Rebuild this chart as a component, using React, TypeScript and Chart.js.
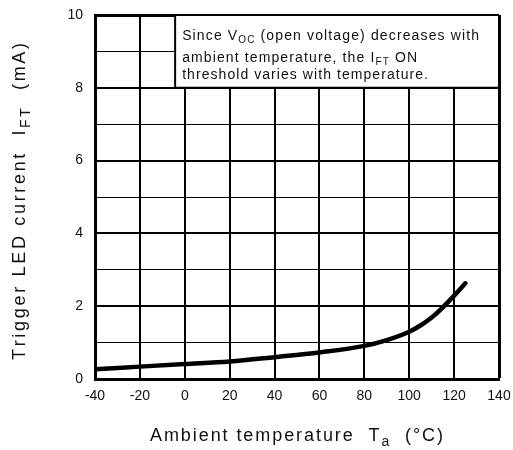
import React, { useEffect, useRef } from "react";
import { Chart, registerables } from "chart.js";

Chart.register(...registerables);

const temperatures = [-40, -20, 0, 20, 40, 60, 80, 90, 100, 105, 110, 115, 120, 125];
const currentIFT = [0.27, 0.34, 0.41, 0.48, 0.6, 0.73, 0.91, 1.07, 1.3, 1.47, 1.69, 1.97, 2.29, 2.63];
const xTitleParts = [
  { text: "Ambient temperature  T", sub: false },
  { text: "a", sub: true },
  { text: "  (°C)", sub: false },
];
const yTitleParts = [
  { text: "Trigger LED current  I", sub: false },
  { text: "FT", sub: true },
  { text: "  (mA)", sub: false },
];
const noteLines = [
  [
    { text: "Since V", sub: false },
    { text: "OC", sub: true },
    { text: " (open voltage) decreases with", sub: false },
  ],
  [
    { text: "ambient temperature, the I", sub: false },
    { text: "FT", sub: true },
    { text: " ON", sub: false },
  ],
  [{ text: "threshold varies with temperature.", sub: false }],
];

type Part = { text: string; sub: boolean };
const FONT = "Arial, 'Liberation Sans', sans-serif";

function rawWidth(ctx: CanvasRenderingContext2D, parts: Part[], size: number, subSize: number) {
  let w = 0;
  let n = 0;
  for (const p of parts) {
    ctx.font = `${p.sub ? subSize : size}px ${FONT}`;
    for (const ch of p.text) {
      w += ctx.measureText(ch).width;
      n++;
    }
  }
  return { w, n };
}

function drawRichFit(
  ctx: CanvasRenderingContext2D,
  parts: Part[],
  x: number,
  y: number,
  size: number,
  subSize: number,
  subOffset: number,
  target: number
) {
  const { w, n } = rawWidth(ctx, parts, size, subSize);
  const sp = n > 1 ? (target - w) / (n - 1) : 0;
  let cx = x;
  ctx.textAlign = "left";
  ctx.textBaseline = "alphabetic";
  for (const p of parts) {
    ctx.font = `${p.sub ? subSize : size}px ${FONT}`;
    for (const ch of p.text) {
      ctx.fillText(ch, cx, p.sub ? y + subOffset : y);
      cx += ctx.measureText(ch).width + sp;
    }
  }
}

const overlayPlugin = {
  id: "overlay",
  afterDraw(chart: any) {
    const ctx: CanvasRenderingContext2D = chart.ctx;
    const xs = chart.scales.x;
    const ys = chart.scales.y;
    const area = chart.chartArea;
    ctx.save();
    // note box
    const bl = xs.getPixelForValue(-4.3);
    const bt = area.top;
    const br = area.right;
    const bb = ys.getPixelForValue(8);
    ctx.fillStyle = "#fff";
    ctx.fillRect(bl, bt + 1, br - bl - 1, bb - bt - 1);
    ctx.strokeStyle = "#000";
    ctx.lineWidth = 2;
    ctx.beginPath();
    ctx.moveTo(bl, bb);
    ctx.lineTo(bl, bt);
    ctx.stroke();
    ctx.beginPath();
    ctx.moveTo(bl, bb);
    ctx.lineTo(br, bb);
    ctx.stroke();
    ctx.fillStyle = "#111";
    const baselines = [40, 62, 79];
    const ends = [479, 417, 428];
    noteLines.forEach((line, i) =>
      drawRichFit(ctx, line, bl + 7, baselines[i], 14, 10, 3, ends[i] - (bl + 7))
    );

    // x title
    drawRichFit(ctx, xTitleParts, 150, 441, 18, 14, 5, 293);

    // y title
    ctx.save();
    ctx.translate(25, 360);
    ctx.rotate(-Math.PI / 2);
    drawRichFit(ctx, yTitleParts, 0, 0, 18, 14, 5, 317);
    ctx.restore();

    ctx.restore();
  },
};

const zeroPad = (s: any) => {
  s.paddingTop = 0;
  s.paddingBottom = 0;
  s.paddingLeft = 0;
  s.paddingRight = 0;
};

export default function App() {
  const ref = useRef<HTMLCanvasElement>(null);
  useEffect(() => {
    if (!ref.current) return;
    const chart = new Chart(ref.current, {
      type: "line",
      data: {
        datasets: [
          {
            data: temperatures.map((t, i) => ({ x: t, y: currentIFT[i] })),
            borderColor: "#000",
            borderWidth: 4.5,
            pointRadius: 0,
            cubicInterpolationMode: "monotone",
            fill: false,
            borderCapStyle: "round",
          },
        ],
      },
      options: {
        animation: false,
        responsive: true,
        maintainAspectRatio: false,
        layout: { padding: { left: 0, right: 14, top: 15, bottom: 0 } },
        plugins: { legend: { display: false }, tooltip: { enabled: false }, title: { display: false } },
        scales: {
          x: {
            type: "linear",
            min: -40,
            max: 140,
            afterFit: (s: any) => {
              s.height = 71;
              zeroPad(s);
            },
            ticks: {
              stepSize: 20,
              color: "#111",
              padding: 9,
              font: { size: 14, family: FONT },
              maxRotation: 0,
            },
            grid: {
              color: "#000",
              drawTicks: false,
              lineWidth: (c: any) => (c.tick && c.tick.value === 140 ? 3 : 2),
            },
            border: { display: true, color: "#000", width: 3 },
          },
          y: {
            type: "linear",
            min: 0,
            max: 10,
            afterFit: (s: any) => {
              s.width = 95;
              zeroPad(s);
            },
            ticks: {
              stepSize: 1,
              color: "#111",
              padding: 12,
              font: { size: 14, family: FONT },
              callback: (v: any) => (Number(v) % 2 === 0 ? String(v) : ""),
            },
            grid: {
              color: "#000",
              drawTicks: false,
              lineWidth: (c: any) => {
                const v = c.tick ? c.tick.value : 0;
                if (v === 10) return 3;
                return v % 2 === 0 ? 2 : 1;
              },
            },
            border: { display: true, color: "#000", width: 3 },
          },
        },
      },
      plugins: [overlayPlugin],
    } as any);
    return () => chart.destroy();
  }, []);
  return (
    <div style={{ position: "fixed", left: 0, top: 0, width: 513, height: 450, background: "#fff" }}>
      <canvas ref={ref} />
    </div>
  );
}
